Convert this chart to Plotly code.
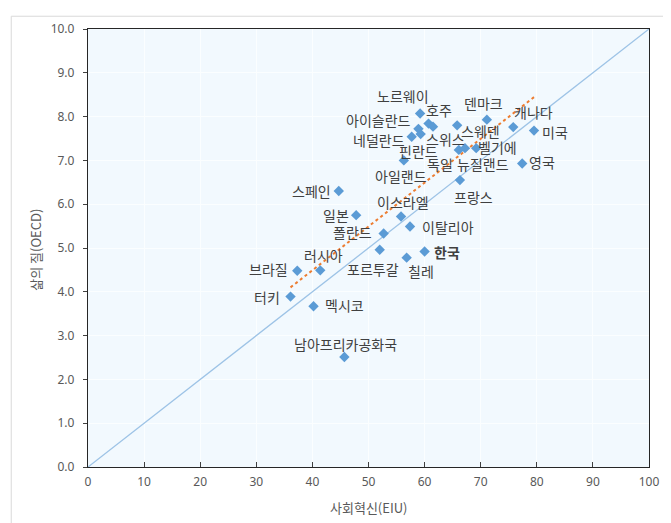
import numpy as np
import plotly.graph_objects as go

# ---- data ----
countries = ["미국", "캐나다", "영국", "덴마크", "스웨덴", "벨기에", "독일", "뉴질랜드",
             "프랑스", "호주", "노르웨이", "스위스", "아이슬란드", "핀란드", "네덜란드",
             "아일랜드", "스페인", "일본", "이스라엘", "이탈리아", "폴란드", "포르투갈",
             "칠레", "한국", "브라질", "러시아", "터키", "멕시코", "남아프리카공화국"]
social_innovation = [79.5, 75.8, 77.4, 71.1, 65.8, 69.2, 66.1, 67.2,
                     66.3, 59.2, 60.7, 61.5, 58.9, 59.3, 57.7,
                     56.3, 44.7, 47.8, 55.8, 57.4, 52.7, 52.0,
                     56.8, 60.0, 37.3, 41.4, 36.1, 40.2, 45.7]
quality_of_life = [7.68, 7.76, 6.93, 7.93, 7.80, 7.28, 7.24, 7.28,
                   6.55, 8.07, 7.84, 7.77, 7.72, 7.60, 7.54,
                   7.00, 6.30, 5.75, 5.72, 5.49, 5.33, 4.96,
                   4.78, 4.92, 4.48, 4.49, 3.89, 3.67, 2.51]
ref_x = [0, 100]
ref_y = [0, 10]
x_ticks = list(range(0, 101, 10))
y_ticks = [i * 1.0 for i in range(0, 11)]

# label offsets (screen px: dx right, dy down) -- style only
label_offsets = [(21, 1), (20, -15), (20, -1), (-3, -17), (23, 6), (21, -1), (-19, 14), (18, 16),
                 (14, 17), (19, -4), (-26, -28), (12, 12), (-40, -9), (-2, 17), (-33, 3),
                 (-3, 16), (-27, 0), (-20, 0), (2, -14), (38, 0), (-31, -2), (-7, 19),
                 (14, 13), (22, 0), (-29, -2), (3, -15), (-24, 0), (31, -1), (1, -13)]

FONT = "Noto Sans CJK KR"

fig = go.Figure()

# 45-degree reference line
fig.add_trace(go.Scatter(x=ref_x, y=ref_y, mode="lines",
                         line=dict(color="#9DC3E6", width=1.3),
                         hoverinfo="skip", showlegend=False))

# linear trend line (least squares over data range)
xs = np.array(social_innovation)
ys = np.array(quality_of_life)
slope, intercept = np.polyfit(xs, ys, 1)
tx = np.array([xs.min(), xs.max()])
fig.add_trace(go.Scatter(x=tx, y=slope * tx + intercept, mode="lines",
                         line=dict(color="#ED7D31", width=2, dash="dot"),
                         hoverinfo="skip", showlegend=False))

# data points
fig.add_trace(go.Scatter(x=social_innovation, y=quality_of_life, mode="markers",
                         marker=dict(symbol="diamond", size=8, color="#5B9BD5"),
                         text=countries, showlegend=False))

annotations = []
for name, xv, yv, (dx, dy) in zip(countries, social_innovation, quality_of_life, label_offsets):
    txt = "<b>" + name + "</b>" if name == "한국" else name
    annotations.append(dict(x=xv, y=yv, text=txt, showarrow=False,
                            xshift=dx, yshift=-dy,
                            font=dict(family=FONT, size=14, color="#404040")))

# plot area in window pixels: x 88..658, y 21..467 (page has 8px body margin)
PX0, PY1, PW, PH = 88, 467, 570, 446

# axis titles
annotations.append(dict(text="사회혁신(EIU)", xref="paper", yref="paper",
                        x=(373 - PX0) / PW, y=(PY1 - 508) / PH, showarrow=False,
                        xanchor="center", yanchor="middle",
                        font=dict(family=FONT, size=13, color="#595959")))
annotations.append(dict(text="삶의 질(OECD)", xref="paper", yref="paper",
                        x=(35 - PX0) / PW, y=(PY1 - 246) / PH, showarrow=False,
                        xanchor="center", yanchor="middle", textangle=-90,
                        font=dict(family=FONT, size=13, color="#595959")))

fig.update_layout(
    width=663, height=515,
    margin=dict(l=80, r=13, t=13, b=56),
    paper_bgcolor="white",
    plot_bgcolor="#F2F9FE",
    annotations=annotations,
    shapes=[dict(type="rect", xref="paper", yref="paper",
                 x0=(10 - PX0) / PW, x1=(690 - PX0) / PW,
                 y0=(PY1 - 560) / PH, y1=(PY1 - 8) / PH,
                 line=dict(color="#D9D9D9", width=1), fillcolor="rgba(0,0,0,0)",
                 layer="below")],
)

fig.update_xaxes(range=[0, 100], tickvals=x_ticks, showgrid=True, gridcolor="#FBFEFF",
                 zeroline=False, showline=True, linecolor="#262626", linewidth=1.3, mirror=True,
                 ticks="inside", ticklen=5, tickcolor="#404040", ticklabelstandoff=3,
                 tickfont=dict(family="Noto Sans", size=12, color="#595959"))
fig.update_yaxes(range=[0, 10], tickvals=y_ticks, tickformat=".1f", showgrid=True,
                 gridcolor="#FBFEFF",
                 zeroline=False, showline=True, linecolor="#262626", linewidth=1.3, mirror=True,
                 ticks="outside", ticklen=4, tickcolor="#404040", ticklabelstandoff=6,
                 tickfont=dict(family="Noto Sans", size=12, color="#595959"))

fig.write_html("out.html")
